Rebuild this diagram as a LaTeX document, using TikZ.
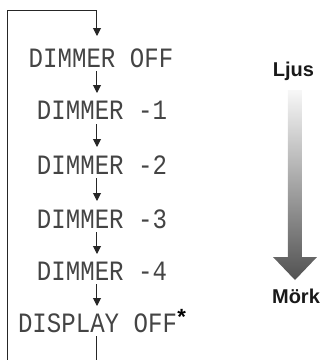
\documentclass[tikz,border=0pt]{standalone}
\usepackage{fontspec}
\setmainfont{Liberation Sans}
\newfontfamily\lcdfont{Liberation Mono}
\usetikzlibrary{arrows.meta}
\definecolor{lcdgray}{HTML}{444444}
\tikzset{
  lcd/.style={font=\fontsize{28}{28}\selectfont\lcdfont, text=lcdgray, text height=20pt, text depth=0pt, inner xsep=0pt, inner ysep=4pt, anchor=center},
  flow/.style={line width=1pt, draw=black!85},
  arr/.style={flow, -{Triangle[width=8pt,length=8pt]}},
  lbl/.style={font=\fontsize{20}{20}\selectfont\bfseries, text=black!90, inner sep=0pt}
}
\newcommand{\lcd}[1]{\scalebox{0.86}[1]{#1}}
\begin{document}
\begin{tikzpicture}[x=1pt,y=-1pt]
\useasboundingbox (0,0) rectangle (320,360);
\node[lcd] (t0) at (101,57) {\lcd{DIMMER OFF}};
\node[lcd] (t1) at (102,109) {\lcd{DIMMER -1}};
\node[lcd] (t2) at (102,164) {\lcd{DIMMER -2}};
\node[lcd] (t3) at (102,218) {\lcd{DIMMER -3}};
\node[lcd] (t4) at (102,270) {\lcd{DIMMER -4}};
\node[lcd] (t5) at (97.5,322) {\lcd{DISPLAY OFF}};
\node[font=\fontsize{22}{22}\selectfont\bfseries, inner sep=0pt, anchor=north west] (star) at ([yshift=-1pt]t5.north east) {*};
% loop
\coordinate (bl) at (7.5,360);
\coordinate (tl) at (7.5,10);
\coordinate (tc) at (97,10);
\coordinate (bc) at (97,360);
\draw[flow] (bl) -- (tl) -- (tc);
\draw[arr] (tc) -- (97,36);
\draw[flow] (97,336) -- (bc);
\draw[arr] (97,71) -- (97,93);
\draw[arr] (97,124) -- (97,147);
\draw[arr] (97,178) -- (97,201);
\draw[arr] (97,232) -- (97,254);
\draw[arr] (97,284) -- (97,306);
% brightness indicator
\node[lbl] (ljus) at (293.5,71) {Ljus};
\node[lbl] (mork) at (296,296) {Mörk};
\shade[top color=black!3, bottom color=black!68]
  (288,90) -- (302,90) -- (302,257) -- (317,257) -- (295,280) -- (273,257) -- (288,257) -- cycle;
\end{tikzpicture}
\end{document}
